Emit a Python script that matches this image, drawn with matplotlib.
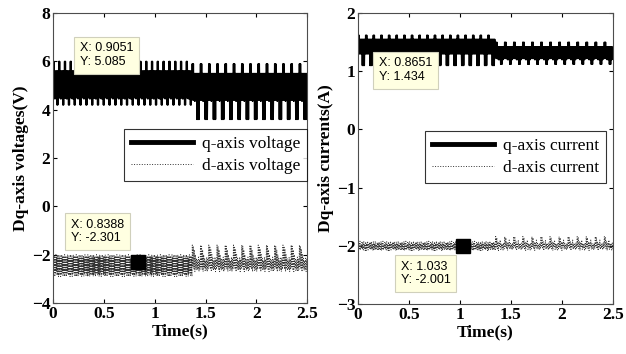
import numpy as np
import matplotlib.pyplot as plt

plt.rcParams['font.family'] = 'Liberation Serif'

# ripple shapes: one period each, repeated over its interval
vq_cycle1 = [6.0, 4.5, 6.0, 4.5, 5.6, 4.45, 5.6, 4.5, 5.6, 4.45, 5.6, 4.2, 5.6, 4.2, 5.6, 4.5]
vq_cycle2 = [5.9, 4.4, 5.9, 4.4, 5.5, 4.35, 5.5, 4.4, 5.5, 3.6, 5.5, 3.6, 5.5, 3.6, 5.5, 4.4]
vd_cycle1 = [-2.0, -2.85, -2.1, -2.75, -2.05, -2.9, -2.15, -2.8,
             -2.0, -2.7, -2.1, -2.85, -2.05, -2.8, -2.1, -2.9]
vd_cycle2 = [-1.6, -2.5, -1.65, -2.6, -1.8, -2.7, -2.0, -2.55,
             -2.15, -2.65, -2.25, -2.6, -2.1, -2.7, -2.2, -2.6]
iq_cycle1 = [1.62, 1.3, 1.62, 1.3, 1.55, 1.3, 1.55, 1.3, 1.55, 1.1, 1.55, 1.1, 1.55, 1.1, 1.55, 1.3]
iq_cycle2 = [1.5, 1.22, 1.5, 1.22, 1.42, 1.2, 1.42, 1.2, 1.42, 1.12, 1.42, 1.12, 1.42, 1.2, 1.42, 1.22]
id_cycle1 = [-1.93, -2.08, -1.96, -2.05, -1.92, -2.07, -1.98, -2.04,
             -1.94, -2.06, -1.95, -2.07, -1.93, -2.05, -1.97, -2.08]
id_cycle2 = [-1.84, -2.02, -1.86, -2.05, -1.93, -2.08, -1.95, -2.02,
             -1.9, -2.06, -1.96, -2.04, -1.97, -2.07, -1.95, -2.05]

t_end = 2.5
t_switch_v = 1.37
t_switch_i = 1.35
n_cyc_v = [24, 14]
n_cyc_i = [18, 13]

# data tips
tip_v = [(0.9051, 5.085), (0.8388, -2.301)]
tip_i = [(0.8651, 1.434), (1.033, -2.001)]

xticks = [0, 0.5, 1, 1.5, 2, 2.5]
xtick_labels = ['0', '0.5', '1', '1.5', '2', '2.5']
yticks_v = [-4, -2, 0, 2, 4, 6, 8]
yticks_i = [-3, -2, -1, 0, 1, 2]


def build(c1, c2, n, ts):
    y = np.concatenate([np.tile(c1, n[0]), np.tile(c2, n[1])])
    t = np.concatenate([np.linspace(0, ts, len(c1) * n[0], endpoint=False),
                        np.linspace(ts, t_end, len(c2) * n[1])])
    return t, y


tv, vq = build(vq_cycle1, vq_cycle2, n_cyc_v, t_switch_v)
tvd, vd = build(vd_cycle1, vd_cycle2, n_cyc_v, t_switch_v)
ti, iq = build(iq_cycle1, iq_cycle2, n_cyc_i, t_switch_i)
tid, idd = build(id_cycle1, id_cycle2, n_cyc_i, t_switch_i)

fig = plt.figure(figsize=(6.26, 3.54), dpi=100)
ax1 = fig.add_axes([0.0847, 0.144, 0.406, 0.819])
ax2 = fig.add_axes([0.572, 0.141, 0.407, 0.822])

tipbox = dict(boxstyle='square,pad=0.45', facecolor='#ffffe1', edgecolor='#d0d0bc', linewidth=0.8)
tipfont = dict(family='Liberation Sans', fontsize=9, va='center', ha='left', linespacing=1.2)

ax1.plot(tv, vq, color='black', lw=1.1, label='q-axis voltage')
ax1.plot(tvd, vd, color='0.2', lw=0.7, ls=':', label='d-axis voltage')
ax1.plot(tip_v[1][0], tip_v[1][1], 's', color='black', ms=10)
ax1.text(0.266, 6.26, 'X: %s\nY: %s' % tip_v[0], bbox=tipbox, **tipfont)
ax1.text(0.177, -1.04, 'X: %s\nY: %s' % tip_v[1], bbox=tipbox, **tipfont)
ax1.set_ylim(-4, 8)
ax1.set_yticks(yticks_v)
ax1.set_ylabel('Dq-axis voltages(V)', fontweight='bold', fontsize=12.5, labelpad=2)
leg1 = ax1.legend(loc='upper right', bbox_to_anchor=(1.0, 0.6), fontsize=12.5, frameon=True,
                  fancybox=False, edgecolor='black', borderaxespad=0, handlelength=3.6,
                  borderpad=0.4, labelspacing=0.35, handletextpad=0.5)

ax2.plot(ti, iq, color='black', lw=1.1, label='q-axis current')
ax2.plot(tid, idd, color='0.2', lw=0.7, ls=':', label='d-axis current')
ax2.plot(tip_i[1][0], tip_i[1][1], 's', color='black', ms=10)
ax2.text(0.206, 1.02, 'X: %s\nY: %s' % tip_i[0], bbox=tipbox, **tipfont)
ax2.text(0.42, -2.476, 'X: %s\nY: %s' % tip_i[1], bbox=tipbox, **tipfont)
ax2.set_ylim(-3, 2)
ax2.set_yticks(yticks_i)
ax2.set_ylabel('Dq-axis currents(A)', fontweight='bold', fontsize=12.5, labelpad=2)
leg2 = ax2.legend(loc='upper right', bbox_to_anchor=(0.973, 0.595), fontsize=12.5, frameon=True,
                  fancybox=False, edgecolor='black', borderaxespad=0, handlelength=3.6,
                  borderpad=0.4, labelspacing=0.35, handletextpad=0.5)

for ax, leg in [(ax1, leg1), (ax2, leg2)]:
    leg.get_frame().set_linewidth(0.8)
    leg.legend_handles[0].set_linewidth(3.5)
    ax.set_xlim(0, 2.5)
    ax.set_xticks(xticks)
    ax.set_xticklabels(xtick_labels)
    ax.set_xlabel('Time(s)', fontweight='bold', fontsize=12.5, labelpad=1)
    ax.tick_params(direction='in', top=True, right=True, length=3, labelsize=12.5, pad=2)
    for lab in ax.get_xticklabels() + ax.get_yticklabels():
        lab.set_fontweight('bold')
    for s in ax.spines.values():
        s.set_linewidth(0.8)
        s.set_color('0.3')

fig.savefig('out.png', dpi=100)
